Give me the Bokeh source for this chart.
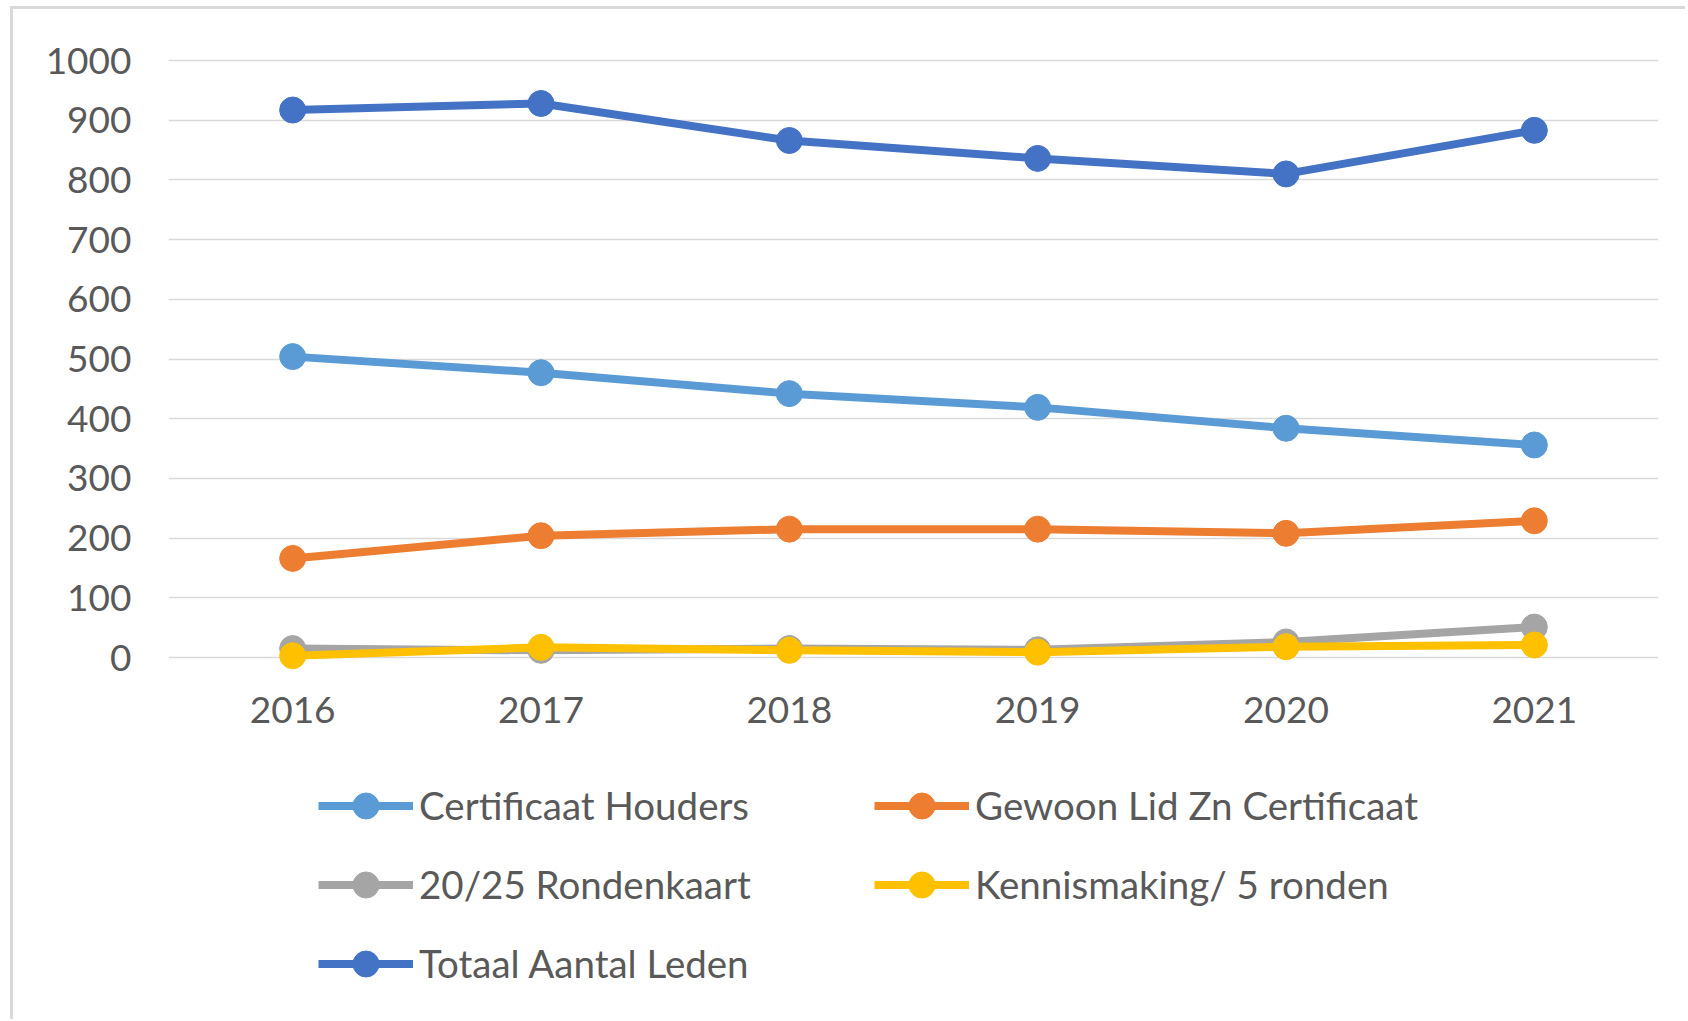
from bokeh.plotting import figure
from bokeh.models import FactorRange, Range1d, FixedTicker, Legend, LegendItem
from bokeh.layouts import column
from bokeh.embed import file_html
from bokeh.resources import INLINE

years = ["2016", "2017", "2018", "2019", "2020", "2021"]
certificaat_houders = [504, 477, 442, 419, 384, 356]
gewoon_lid = [166, 204, 215, 215, 208, 229]
rondenkaart = [15, 12, 15, 13, 26, 51]
kennismaking = [3, 17, 12, 9, 18, 21]
totaal = [917, 928, 866, 836, 810, 883]
y_ticks = [0, 100, 200, 300, 400, 500, 600, 700, 800, 900, 1000]

series = [
    ("Certificaat Houders", certificaat_houders, "#5B9BD5"),
    ("Gewoon Lid Zn Certificaat", gewoon_lid, "#ED7D31"),
    ("20/25 Rondenkaart", rondenkaart, "#A5A5A5"),
    ("Kennismaking/ 5 ronden", kennismaking, "#FFC000"),
    ("Totaal Aantal Leden", totaal, "#4472C4"),
]
legend_left = ["Certificaat Houders", "20/25 Rondenkaart", "Totaal Aantal Leden"]
legend_right = ["Gewoon Lid Zn Certificaat", "Kennismaking/ 5 ronden"]

FONT = "Lato"
TXT = "#595959"
W = 1672

# main chart
p = figure(
    width=W, height=741,
    x_range=FactorRange(factors=years, range_padding=0),
    y_range=Range1d(-38.5, 1033.5),
    output_backend="svg", toolbar_location=None,
    min_border_left=155, min_border_right=27, min_border_top=31, min_border_bottom=70,
)
p.outline_line_color = None
p.xgrid.visible = False
p.ygrid.grid_line_color = "#d9d9d9"
p.ygrid.grid_line_width = 1.5

p.yaxis.ticker = FixedTicker(ticks=y_ticks)
for ax in (p.xaxis[0], p.yaxis[0]):
    ax.axis_line_color = None
    ax.major_tick_line_color = None
    ax.minor_tick_line_color = None
    ax.major_tick_out = 0
    ax.major_tick_in = 0
    ax.minor_tick_out = 0
    ax.minor_tick_in = 0
    ax.major_label_text_font = FONT
    ax.major_label_text_font_size = "37px"
    ax.major_label_text_color = TXT
p.yaxis.major_label_standoff = 37
p.xaxis.major_label_standoff = 16

for name, vals, col in series:
    p.line(years, vals, line_color=col, line_width=8)
    p.scatter(years, vals, size=26, fill_color=col, line_color=col)

# legend strip (its series lie outside its visible range; only the legend shows)
lp = figure(
    width=W, height=269,
    x_range=FactorRange(factors=years, range_padding=0),
    y_range=Range1d(5000, 6000),
    output_backend="svg", toolbar_location=None,
    x_axis_location=None, y_axis_location=None,
    min_border=0,
)
lp.outline_line_color = None
lp.grid.visible = False

items = {}
for name, vals, col in series:
    lr = lp.line(years, vals, line_color=col, line_width=8)
    sr = lp.scatter(years, vals, size=26, fill_color=col, line_color=col)
    items[name] = LegendItem(label=name, renderers=[lr, sr])

def make_legend(names, loc):
    lg = Legend(items=[items[n] for n in names], location=loc)
    lg.label_text_font = FONT
    lg.label_text_font_size = "38.5px"
    lg.label_text_color = TXT
    lg.glyph_width = 95
    lg.glyph_height = 65
    lg.label_height = 65
    lg.label_standoff = 6
    lg.spacing = 14
    lg.padding = 0
    lg.margin = 0
    lg.border_line_color = None
    lg.background_fill_alpha = 0
    lg.click_policy = "none"
    return lg

lp.add_layout(make_legend(legend_left, (150, 23.5)), "center")
lp.add_layout(make_legend(legend_right, (706, 102.5)), "center")

layout = column(p, lp, spacing=0,
                styles={"border-top": "3px solid #d9d9d9", "border-left": "3px solid #d9d9d9",
                        "margin-left": "10px", "margin-top": "6px"})

open("out.html", "w").write(file_html(layout, INLINE))
